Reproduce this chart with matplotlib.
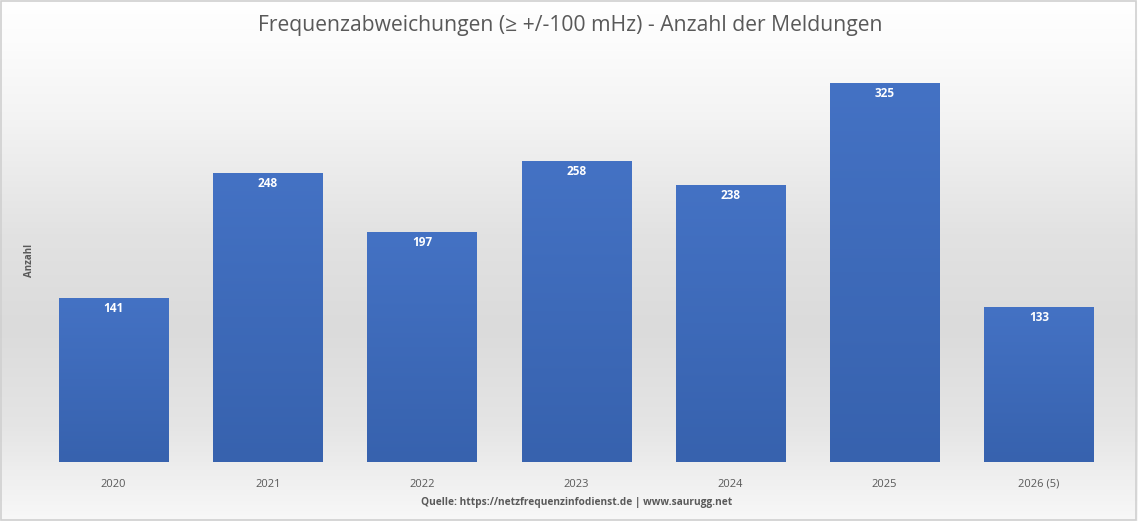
import numpy as np
import matplotlib
matplotlib.use("Agg")
import matplotlib.pyplot as plt
from matplotlib.colors import LinearSegmentedColormap
from matplotlib.patches import Rectangle

categories = ["2020", "2021", "2022", "2023", "2024", "2025", "2026 (5)"]
counts = [141, 248, 197, 258, 238, 325, 133]
title = "Frequenzabweichungen (\u2265 +/-100 mHz) - Anzahl der Meldungen"
ylabel = "Anzahl"
source = "Quelle: https://netzfrequenzinfodienst.de | www.saurugg.net"

plt.rcParams['font.family'] = ['Open Sans', 'DejaVu Sans']

W, H = 1138, 521
fig = plt.figure(figsize=(W / 100, H / 100), dpi=100)

# background gradient
bg = fig.add_axes([0, 0, 1, 1], zorder=0)
bg_cmap = LinearSegmentedColormap.from_list("bg", [
    (0.0, "#ffffff"), (0.08, "#fcfcfc"), (0.23, "#f3f3f3"), (0.45, "#e2e2e2"),
    (0.63, "#dbdbdb"), (0.82, "#e5e5e5"), (1.0, "#f8f8f8")])
grad = np.linspace(0, 1, 512).reshape(-1, 1)
bg.imshow(grad, aspect="auto", cmap=bg_cmap, extent=[0, 1, 0, 1], origin="upper")
bg.set_xlim(0, 1); bg.set_ylim(0, 1)
bg.axis("off")
bg.add_patch(Rectangle((0.0005, 0.001), 0.998, 0.997, fill=False,
                       edgecolor="#d0d0d0", linewidth=1.2, transform=bg.transAxes))

ax = fig.add_axes([36.4 / W, 59 / H, (1116 - 36.4) / W, (462 - 54) / H], zorder=1)
ax.patch.set_alpha(0)
x = np.arange(len(categories))
bars = ax.bar(x, counts, width=0.707, color="#4472c4", zorder=2)
ax.set_xlim(-0.5, len(categories) - 0.5)
ax.set_ylim(0, 350)

bar_cmap = LinearSegmentedColormap.from_list("bar", ["#4472c4", "#3762ae"])
for b in bars:
    x0, y0 = b.get_x(), b.get_y()
    w, h = b.get_width(), b.get_height()
    im = ax.imshow(np.linspace(0, 1, 256).reshape(-1, 1), aspect="auto", cmap=bar_cmap,
                   extent=[x0, x0 + w, y0, y0 + h], origin="upper", zorder=3)
    im.set_clip_path(b)
    ax.text(x0 + w / 2, y0 + h - 9, str(int(h)), ha="center", va="center",
            color="white", fontsize=8.5, fontweight="bold", zorder=4)
ax.set_xlim(-0.5, len(categories) - 0.5)
ax.set_ylim(0, 350)

for s in ax.spines.values():
    s.set_visible(False)
ax.set_yticks([])
ax.set_xticks(x)
ax.set_xticklabels(categories, fontsize=8, color="#595959")
ax.tick_params(axis="x", length=0, pad=12)

fig.text(570 / W, 1 - 25 / H, title, ha="center", va="center", fontsize=15.2, color="#595959")
fig.text(30 / W, 1 - 260 / H, ylabel, ha="center", va="center", rotation=90,
         fontsize=7, fontweight="bold", color="#595959")
fig.text(577 / W, 1 - 503 / H, source, ha="center", va="center", fontsize=7.3,
         fontweight="bold", color="#595959")

fig.savefig("out.png", dpi=100)
